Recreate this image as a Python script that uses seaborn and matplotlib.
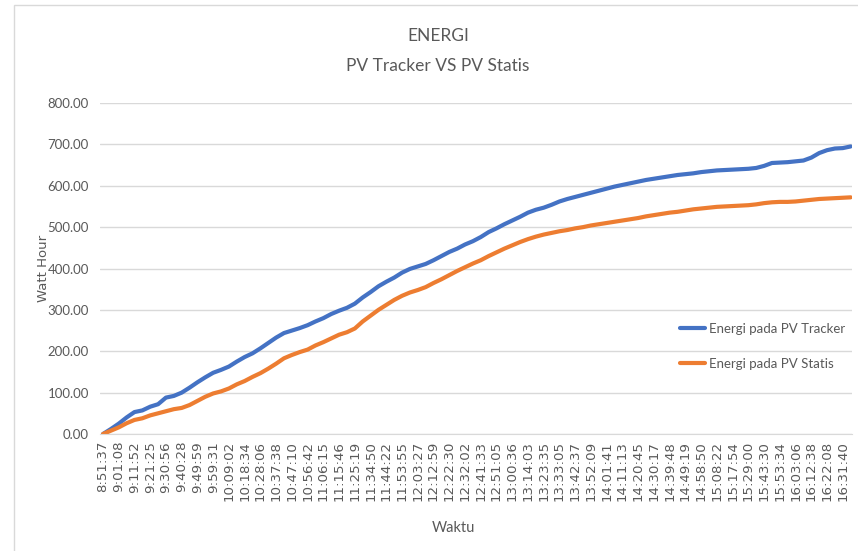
# Energy comparison PV Tracker vs PV Statis, Excel-style line chart.

import numpy as np
import pandas as pd

import matplotlib
matplotlib.use('Agg')
import matplotlib.pyplot as plt
from matplotlib.patches import Rectangle

import seaborn as sns

# tick labels (one every 2 samples)
waktu = ["8:51:37", "9:01:08", "9:11:52", "9:21:25", "9:30:56", "9:40:28",
         "9:49:59", "9:59:31", "10:09:02", "10:18:34", "10:28:06", "10:37:38",
         "10:47:10", "10:56:42", "11:06:15", "11:15:46", "11:25:19", "11:34:50",
         "11:44:22", "11:53:55", "12:03:27", "12:12:59", "12:22:30", "12:32:02",
         "12:41:33", "12:51:05", "13:00:36", "13:14:03", "13:23:35", "13:33:05",
         "13:42:37", "13:52:09", "14:01:41", "14:11:13", "14:20:45", "14:30:17",
         "14:39:48", "14:49:19", "14:58:50", "15:08:22", "15:17:54", "15:29:00",
         "15:43:30", "15:53:34", "16:03:06", "16:12:38", "16:22:08", "16:31:40"]

# Watt hour readings
tracker = [0, 12, 25, 40, 53, 57, 66, 72, 88, 92, 100, 112, 125, 137, 148, 155,
           163, 175, 186, 195, 207, 220, 233, 244, 250, 256, 263, 272, 280, 290,
           298, 305, 315, 330, 343, 357, 368, 378, 390, 399, 405, 411, 420, 430,
           440, 448, 458, 466, 476, 488, 497, 507, 516, 525, 535, 542, 547, 554,
           562, 568, 573, 578, 583, 588, 593, 598, 602, 606, 610, 614, 617, 620,
           623, 626, 628, 630, 633, 635, 637, 638, 639, 640, 641, 643, 648, 655,
           656, 657, 659, 661, 668, 679, 686, 690, 691, 695]
statis = [0, 8, 16, 26, 34, 38, 45, 50, 55, 60, 63, 70, 80, 90, 98, 103,
          110, 120, 128, 138, 147, 158, 170, 183, 191, 198, 204, 214, 222, 231,
          240, 246, 255, 272, 286, 300, 312, 324, 334, 342, 348, 355, 365, 374,
          384, 394, 403, 412, 420, 430, 439, 448, 456, 464, 471, 477, 482, 486,
          490, 493, 497, 500, 504, 507, 510, 513, 516, 519, 522, 526, 529, 532,
          535, 537, 540, 543, 545, 547, 549, 550, 551, 552, 553, 555, 558, 560,
          561, 561, 562, 564, 566, 568, 569, 570, 571, 572]

df = pd.DataFrame({"idx": np.arange(len(tracker)),
                   "Energi pada PV Tracker": tracker,
                   "Energi pada PV Statis": statis})
df = df.melt(id_vars="idx", var_name="seri", value_name="wh")

sns.set_style("white")
calibri = ['Lato', 'DejaVu Sans']
grey = '#595959'

fig = plt.figure(figsize=(8.58, 5.51), dpi=100)
ax = fig.add_axes([100/858, 117/551, 752/858, 331/551])

# chart border like excel
fig.patches.append(Rectangle((14/858, -0.1), 1.2, (546/551) + 0.1,
                             transform=fig.transFigure, fill=False,
                             edgecolor='#d9d9d9', lw=1))

sns.lineplot(data=df, x="idx", y="wh", hue="seri", ax=ax,
             palette=["#4472C4", "#ED7D31"], linewidth=3)

ax.set_xlim(-0.38, 95.17)
ax.set_ylim(0, 800)
ax.set_yticks(np.arange(0, 801, 100))
ax.set_yticklabels(["%.2f" % v for v in np.arange(0, 801, 100)],
                   family=calibri, fontsize=9.5, color=grey)
ax.set_xticks(np.arange(0, len(tracker), 2))
ax.set_xticklabels(waktu, rotation=90, fontsize=9.6, color=grey,
                   family='DejaVu Sans')
ax.tick_params(axis='both', length=0, pad=8)
ax.tick_params(axis='x', pad=5)
ax.yaxis.grid(True, color='#d9d9d9', lw=1)
for s in ['top', 'right', 'left']:
    ax.spines[s].set_visible(False)
ax.spines['bottom'].set_color('#d9d9d9')

ax.set_ylabel("Watt Hour", fontsize=9.5, color=grey, family='DejaVu Sans')
ax.yaxis.set_label_coords((50 - 100) / 752, 0.5)
ax.set_xlabel("Waktu", fontsize=10.5, color=grey, family=calibri)
ax.xaxis.set_label_coords((453 - 100) / 752, -(521 - 434) / 331)

fig.text(438/858, 1 - 36/551, "ENERGI", ha='center', va='center',
         fontsize=12.5, color=grey, family=calibri)
fig.text(438/858, 1 - 66/551, "PV Tracker VS PV Statis", ha='center',
         va='center', fontsize=12.5, color=grey, family=calibri)

leg = ax.legend(loc='upper left', bbox_to_anchor=(0.755, 0.372), frameon=False,
                handlelength=1.9, handletextpad=0.3, labelspacing=1.75,
                prop={'family': calibri, 'size': 9.5})
for t in leg.get_texts():
    t.set_color(grey)

fig.savefig("out.png", dpi=100)
plt.close()
